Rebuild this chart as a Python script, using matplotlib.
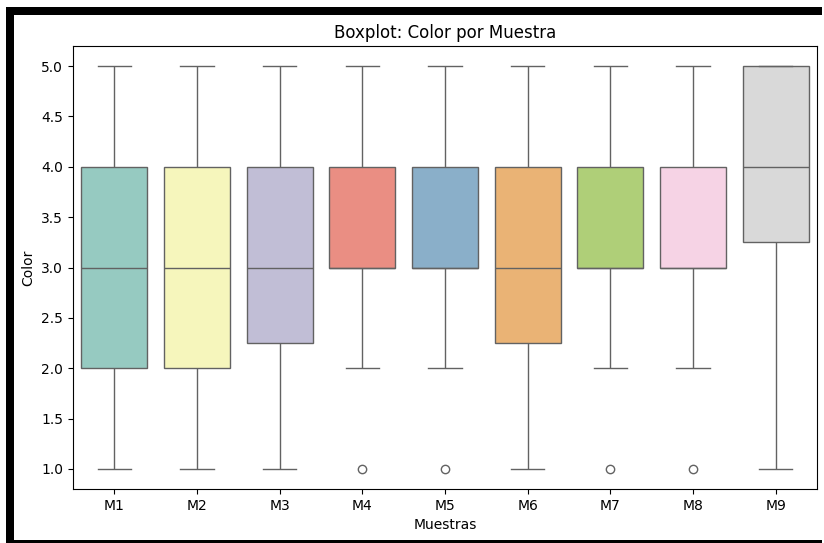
import matplotlib
matplotlib.use("Agg")
import matplotlib.pyplot as plt
from matplotlib.patches import Rectangle
import pandas as pd
import seaborn as sns

# color scores per sample (scale 1-5)
muestras = ["M1", "M2", "M3", "M4", "M5", "M6", "M7", "M8", "M9"]
m1 = [1, 2, 2, 3, 3, 4, 4, 5]
m2 = [1, 2, 2, 3, 3, 4, 4, 5]
m3 = [1, 2, 2, 3, 3, 3, 4, 4, 4, 5]
m4 = [1, 2, 3, 3, 3, 3, 4, 4, 5]
m5 = [1, 2, 3, 3, 3, 3, 4, 4, 5]
m6 = [1, 2, 2, 3, 3, 3, 4, 4, 4, 5]
m7 = [1, 2, 3, 3, 3, 3, 4, 4, 5]
m8 = [1, 2, 3, 3, 3, 3, 4, 4, 5]
m9 = [1, 2, 3, 4, 4, 4, 5, 5, 5, 5]
valores = [m1, m2, m3, m4, m5, m6, m7, m8, m9]

rows = []
for name, vals in zip(muestras, valores):
    for v in vals:
        rows.append({"Muestras": name, "Color": v})
df = pd.DataFrame(rows)

W, H = 824, 543
fig = plt.figure(figsize=(W / 100, H / 100), dpi=100)

# black frame of the screenshot (left, top, bottom)
for x0, y0, w, h in [(6, 0, 8, 536), (6, 528, 816, 8), (6, 0, 816, 3)]:
    fig.patches.append(Rectangle((x0 / W, y0 / H), w / W, h / H,
                                 transform=fig.transFigure, facecolor="black",
                                 linewidth=0))

ax = fig.add_axes([73 / W, 54 / H, (817 - 73) / W, (489 - 46) / H])
sns.boxplot(data=df, x="Muestras", y="Color", hue="Muestras", palette="Set3",
            legend=False, ax=ax)
ax.set_title("Boxplot: Color por Muestra")
ax.set_xlabel("Muestras")
ax.set_ylabel("Color")

fig.savefig("out.png", dpi=100)
